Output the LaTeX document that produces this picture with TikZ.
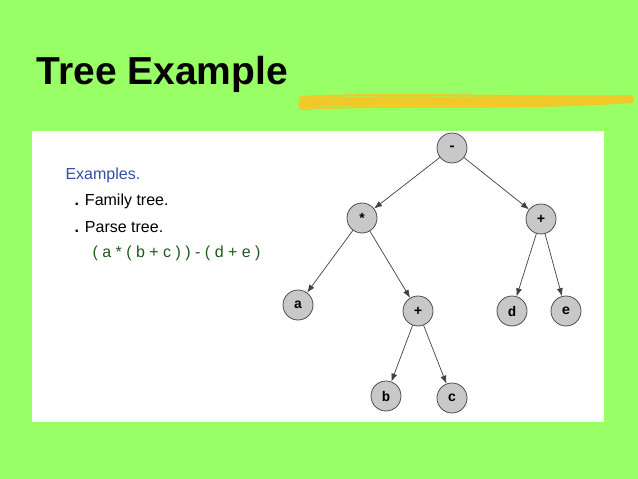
\documentclass[tikz,border=0pt]{standalone}
\usepackage{fontspec}
\setmainfont{Liberation Sans}
\newfontfamily\monofont{Liberation Mono}
\definecolor{bg}{RGB}{153,255,102}
\definecolor{brush}{RGB}{240,200,40}
\definecolor{exblue}{RGB}{50,80,160}
\definecolor{exgreen}{RGB}{30,90,30}
\definecolor{nodegray}{RGB}{200,200,200}
\tikzset{tn/.style={circle,draw=black!70,line width=0.8pt,fill=nodegray,minimum size=30pt,inner sep=0pt,font=\monofont\bfseries\fontsize{14}{14}\selectfont},
ed/.style={-{Latex[length=8pt,width=6pt]},draw=black!75,line width=0.7pt}}
\usetikzlibrary{arrows.meta}
\begin{document}
\begin{tikzpicture}[x=1pt,y=-1pt]
\fill[bg] (0,0) rectangle (638,479);
\useasboundingbox (0,0) rectangle (638,479);
\node[anchor=west,font=\bfseries\fontsize{39}{39}\selectfont] (title) at (33,74) {Tree Example};
\foreach \dy/\w in {-6/2, -3/3, 0/4, 3/3, 6/2}{
  \draw[brush,line width=\w pt,line cap=round] (300,{103+\dy}) .. controls (400,{98+\dy}) and (520,{104+\dy}) .. (632,{99+\dy*0.5});
}
\fill[white] (32,131) rectangle (604,422);
\node[anchor=west,text=exblue,font=\fontsize{16}{16}\selectfont] (ex) at (62,175) {Examples.};
\node[anchor=west,font=\fontsize{16}{16}\selectfont] (f) at (71,201) {\textbf{.}\hspace{6pt}Family tree.};
\node[anchor=west,font=\fontsize{16}{16}\selectfont] (p) at (71,227) {\textbf{.}\hspace{6pt}Parse tree.};
\node[anchor=west,text=exgreen,font=\fontsize{16}{16}\selectfont] (expr) at (89,253) {( a * ( b + c ) ) - ( d + e )};
\node[tn] (m) at (452,148) {-};
\node[tn] (t) at (362,218) {*};
\node[tn] (p1) at (541,219) {+};
\node[tn] (a) at (298,305) {a};
\node[tn] (p2) at (418,311) {+};
\node[tn] (d) at (512,311) {d};
\node[tn] (e) at (566,311) {e};
\node[tn] (b) at (386,396) {b};
\node[tn] (c) at (452,398) {c};
\draw[ed] (m) -- (t); \draw[ed] (m) -- (p1);
\draw[ed] (t) -- (a); \draw[ed] (t) -- (p2);
\draw[ed] (p1) -- (d); \draw[ed] (p1) -- (e);
\draw[ed] (p2) -- (b); \draw[ed] (p2) -- (c);
\end{tikzpicture}
\end{document}
